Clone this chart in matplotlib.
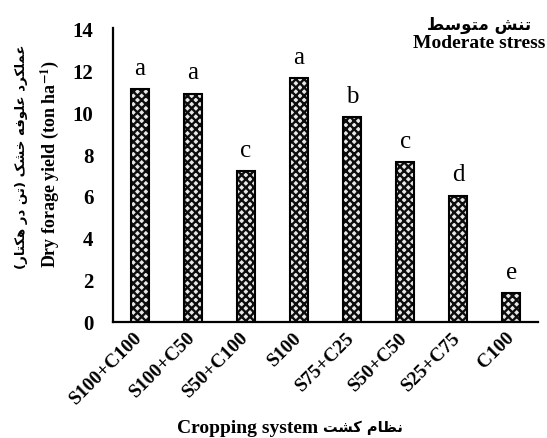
import matplotlib
matplotlib.use("Agg")
import matplotlib.pyplot as plt
import numpy as np

# ---- data -------------------------------------------------------------
systems = ["S100+C100", "S100+C50", "S50+C100", "S100",
           "S75+C25", "S50+C50", "S25+C75", "C100"]
yield_t = [11.10, 10.88, 7.20, 11.61, 9.75, 7.63, 6.01, 1.35]
groups = ["a", "a", "c", "a", "b", "c", "d", "e"]
y_ticks = [0, 2, 4, 6, 8, 10, 12, 14]

title_fa = "تنش متوسط"
title_en = "Moderate stress"
ylab_fa = "عملکرد علوفه خشک (تن در هکتار)"
ylab_en = r"Dry forage yield (ton ha$^{\mathbf{-1}}$)"
xlab_fa = "نظام کشت"
xlab_en = "Cropping system"

# ---- minimal Persian shaping (presentation forms + visual order) -------
# letter: (isolated, final, initial, medial); None = does not join forward
FORMS = {
    "ا": ("\uFE8D", "\uFE8E", None, None),
    "ت": ("\uFE95", "\uFE96", "\uFE97", "\uFE98"),
    "خ": ("\uFEA5", "\uFEA6", "\uFEA7", "\uFEA8"),
    "د": ("\uFEA9", "\uFEAA", None, None),
    "ر": ("\uFEAD", "\uFEAE", None, None),
    "س": ("\uFEB1", "\uFEB2", "\uFEB3", "\uFEB4"),
    "ش": ("\uFEB5", "\uFEB6", "\uFEB7", "\uFEB8"),
    "ط": ("\uFEC1", "\uFEC2", "\uFEC3", "\uFEC4"),
    "ظ": ("\uFEC5", "\uFEC6", "\uFEC7", "\uFEC8"),
    "ع": ("\uFEC9", "\uFECA", "\uFECB", "\uFECC"),
    "ف": ("\uFED1", "\uFED2", "\uFED3", "\uFED4"),
    "ل": ("\uFEDD", "\uFEDE", "\uFEDF", "\uFEE0"),
    "م": ("\uFEE1", "\uFEE2", "\uFEE3", "\uFEE4"),
    "ن": ("\uFEE5", "\uFEE6", "\uFEE7", "\uFEE8"),
    "ه": ("\uFEE9", "\uFEEA", "\uFEEB", "\uFEEC"),
    "و": ("\uFEED", "\uFEEE", None, None),
    "ک": ("\uFB8E", "\uFB8F", "\uFB90", "\uFB91"),
}


def shape(text):
    out = []
    for i, ch in enumerate(text):
        if ch not in FORMS:
            out.append(ch)
            continue
        iso, fin, ini, med = FORMS[ch]
        prev = text[i - 1] if i > 0 else ""
        nxt = text[i + 1] if i + 1 < len(text) else ""
        jp = prev in FORMS and FORMS[prev][2] is not None
        jn = ini is not None and nxt in FORMS
        if jp and jn:
            g = med
        elif jp:
            g = fin
        elif jn:
            g = ini
        else:
            g = iso
        out.append(g)
    vis = "".join(reversed(out))
    return vis.translate(str.maketrans("()", ")("))


# ---- style ------------------------------------------------------------
plt.rcParams["font.family"] = ["Liberation Serif", "DejaVu Sans"]
plt.rcParams["mathtext.fontset"] = "stix"
plt.rcParams["hatch.linewidth"] = 1.7
FA = ["DejaVu Sans"]

W, H = 547, 439
fig = plt.figure(figsize=(W / 100, H / 100), dpi=100)
ax = fig.add_axes([113 / W, 1 - 322.7 / H, (538 - 113) / W, (322.7 - 29.3) / H])

x = np.arange(len(systems))
bw = 0.34
# dense dark cross-hatch leaving small light holes, then black outline
ax.bar(x, yield_t, width=bw, color="#e8e8e8", edgecolor="#0d0d0d",
       hatch="xxxx", linewidth=0, zorder=2)
ax.bar(x, yield_t, width=bw, fill=False, edgecolor="black",
       linewidth=1.5, zorder=3)

for xi, v, g in zip(x, yield_t, groups):
    ax.annotate(g, (xi, v), xytext=(0, 11), textcoords="offset points",
                ha="center", va="baseline", fontsize=18,
                family="Liberation Serif")

ax.set_xlim(-0.5, 7.5)
ax.set_ylim(0, 14)
ax.set_yticks(y_ticks)
ax.set_yticklabels([str(t) for t in y_ticks], fontsize=15, fontweight="bold")
ax.tick_params(axis="y", length=0, pad=14)
ax.set_xticks(x)
ax.set_xticklabels(systems, rotation=45, ha="right", va="center",
                   rotation_mode="anchor", fontsize=14, fontweight="bold")
ax.tick_params(axis="x", length=0, pad=9)

for s in ("top", "right"):
    ax.spines[s].set_visible(False)
for s in ("left", "bottom"):
    ax.spines[s].set_linewidth(1.6)
    ax.spines[s].set_color("black")

# axis titles
fig.text(22 / W, 1 - 157 / H, shape(ylab_fa), rotation=90, ha="center",
         va="center", fontsize=9.5, fontweight="bold", family=FA)
fig.text(50 / W, 1 - 164 / H, ylab_en, rotation=90, ha="center",
         va="center", fontsize=13, fontweight="bold")
fig.text(318 / W, 1 - 429 / H, xlab_en, ha="right", va="center",
         fontsize=14, fontweight="bold")
fig.text(323 / W, 1 - 428 / H, shape(xlab_fa), ha="left", va="center",
         fontsize=10.5, fontweight="bold", family=FA)

# panel title
fig.text(479 / W, 1 - 25 / H, shape(title_fa), ha="center", va="center",
         fontsize=12, fontweight="bold", family=FA)
fig.text(479 / W, 1 - 43 / H, title_en, ha="center", va="center",
         fontsize=14, fontweight="bold")

fig.savefig("out.png", dpi=100)
